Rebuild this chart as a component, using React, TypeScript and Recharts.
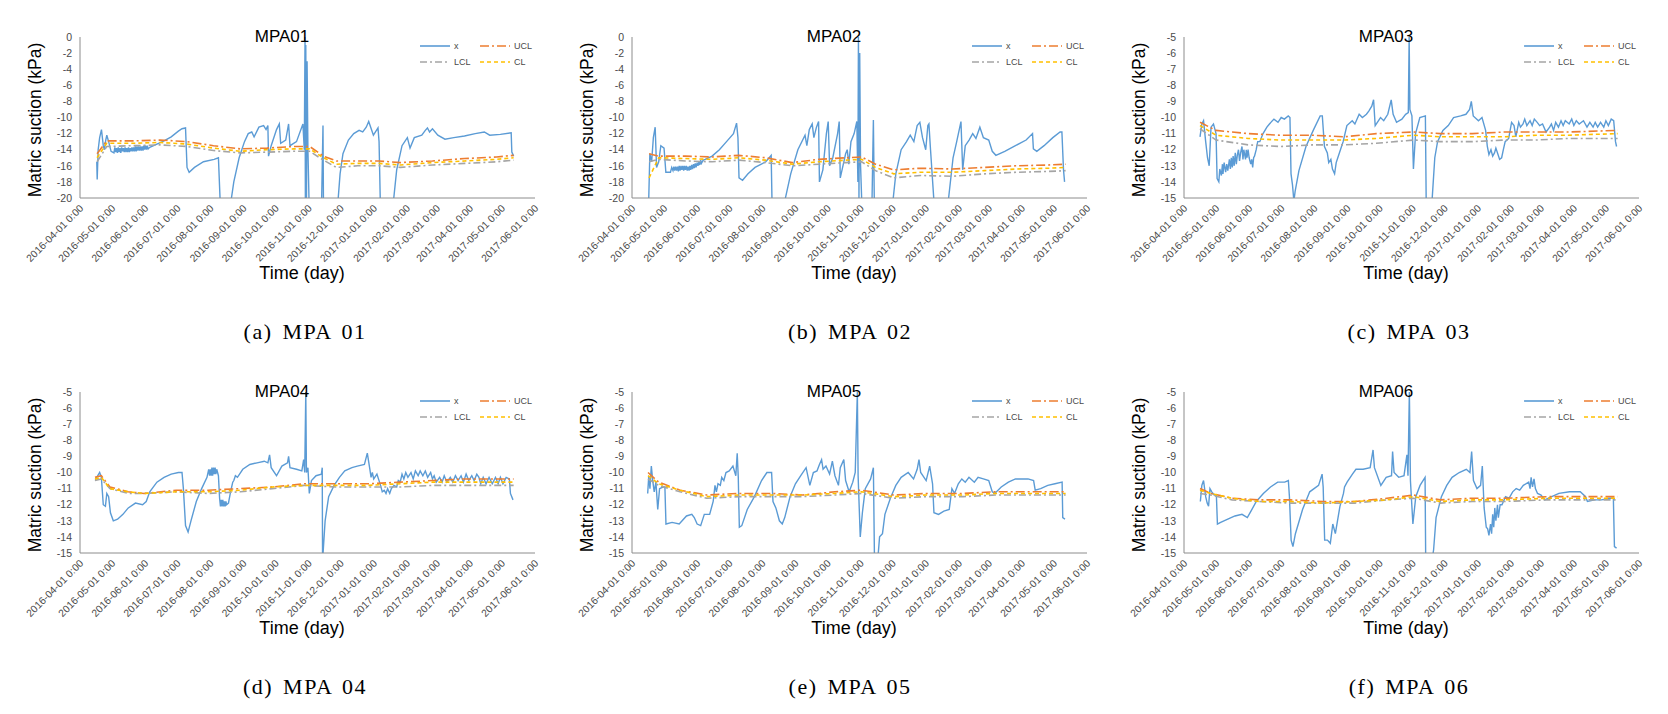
import React from "react";
import { LineChart, Line, XAxis, YAxis } from "recharts";

type Pt = [number, number];

// x axis: days counted from 2016-04-01, one tick per month start
const MONTH_DAYS = [0, 30, 61, 91, 122, 153, 183, 214, 244, 275, 306, 334, 365, 395, 426];
const MONTH_LABELS = [
  "2016-04-01 0:00", "2016-05-01 0:00", "2016-06-01 0:00", "2016-07-01 0:00", "2016-08-01 0:00",
  "2016-09-01 0:00", "2016-10-01 0:00", "2016-11-01 0:00", "2016-12-01 0:00", "2017-01-01 0:00",
  "2017-02-01 0:00", "2017-03-01 0:00", "2017-04-01 0:00", "2017-05-01 0:00", "2017-06-01 0:00",
];

const Y_TICKS_20 = [-20, -18, -16, -14, -12, -10, -8, -6, -4, -2, 0];
const Y_TICKS_15 = [-15, -14, -13, -12, -11, -10, -9, -8, -7, -6, -5];

// ---- MPA01 ----
const MPA01_X: Pt[] = [
  [15.7, -15.5], [16.1, -17.7], [17, -14], [18.4, -12.5], [20.1, -11.5], [21.8, -13.5], [22.8, -14], [24.1, -12.8],
  [25.1, -12.2], [26.8, -13], [29.1, -14.2], [31.8, -14.4],
  [32.6, -13.7], [33.4, -14.3], [34.2, -13.8], [35, -14.4], [35.8, -13.7], [36.6, -14.3], [37.4, -13.8], [38.2, -14.4],
  [39, -13.7], [39.8, -14.2], [40.6, -13.8], [41.4, -14.3], [42.2, -13.7], [43, -14.3], [43.8, -13.8], [44.6, -14.3],
  [45.4, -13.7], [46.2, -14.3], [47, -13.8], [47.8, -14.2], [48.6, -13.7], [49.4, -14.2], [50.2, -13.7], [51, -14.2],
  [51.8, -13.6], [52.6, -14.2], [53.4, -13.6], [54.2, -14.1], [55, -13.6], [55.8, -14.1], [56.6, -13.6], [57.4, -14.1],
  [58.2, -13.6], [59, -14.1], [59.8, -13.5], [60.6, -14.0], [61.4, -13.5], [62.2, -14.0], [63, -13.5], [63.8, -13.9],
  [65.3, -13.7], [72, -13.3], [78.7, -12.9], [85.4, -12.4], [92.1, -11.7], [95.5, -11.4], [98.8, -11.3],
  [100.2, -16.2], [102.2, -16.8], [107.2, -16.2], [115.6, -15.5], [125.6, -15.2], [129.6, -15.0], [131.7, -22],
  [140.7, -21], [144, -18], [149, -15], [154, -13], [157.5, -12], [160.8, -11.8], [163, -12.4], [167.5, -11.2],
  [171.9, -11.0], [174.2, -11.5], [175.9, -11.0], [176.5, -14.8], [179, -13.5], [184, -11.5], [186.6, -10.8],
  [187.9, -13.2], [192.6, -12.8], [195.3, -10.8], [196.6, -13.5], [202.7, -13], [208.7, -10.8], [210, -14],
  [210.7, 0], [211, -20], [211.4, -1], [212, -22], [212.6, -3], [213.4, -14], [214.7, -22], [219.4, -24],
  [226, -22], [227.5, -11], [228, -22], [234.5, -24], [241.2, -21], [243.5, -17], [246.2, -14.5], [251.3, -12.8],
  [256.3, -12.0], [261.3, -11.6], [264.7, -11.8], [268, -11.2], [270.3, -10.5], [272.4, -11.3], [274.7, -12.2],
  [279, -11.3], [280, -13], [281.4, -22], [286.4, -24], [293, -21], [296.5, -16.5], [301.5, -13.5], [306.5, -12.5],
  [309, -13.8], [313, -12.5], [320, -12.2], [323.3, -11.6], [325.3, -11.3], [327.3, -11.8], [330, -11.4],
  [335, -12.2], [341.7, -12.7], [350, -12.5], [360, -12.3], [370, -12.0], [378.5, -11.8], [383.6, -12.2],
  [393.6, -12.1], [403.7, -11.9], [404.3, -14.3], [406, -14.8],
];
const MPA01_CTRL_DAYS = [16, 25, 50, 75, 100, 125, 150, 175, 200, 215, 228, 240, 260, 280, 300, 330, 360, 390, 406];
const MPA01_UCL = [-14.5, -12.9, -12.9, -12.8, -13.0, -13.5, -13.9, -13.8, -13.6, -13.6, -14.8, -15.4, -15.4, -15.4, -15.6, -15.4, -15.1, -14.9, -14.7];
const MPA01_CL = [-15, -13.2, -13.2, -13.1, -13.3, -13.8, -14.2, -14.0, -13.9, -13.9, -15.0, -15.8, -15.7, -15.7, -15.9, -15.6, -15.4, -15.2, -15.0];
const MPA01_LCL = [-15.5, -13.6, -13.5, -13.4, -13.6, -14.1, -14.4, -14.3, -14.2, -14.2, -15.3, -16.2, -16.0, -16.0, -16.2, -15.9, -15.7, -15.5, -15.3];

// ---- MPA02 ----
const MPA02_X: Pt[] = [
  [15.5, -22], [15.7, -20], [16.7, -14.5], [18.4, -15.5], [20, -12.5], [21.7, -11.2], [23, -16.2], [25, -15.5],
  [27, -13.5], [30, -13.8], [31.7, -16.8], [36, -16.8], [37.2, -16.2], [38.4, -16.6], [39.2, -16.1], [40, -16.6],
  [40.9, -16.1], [41.7, -16.6], [42.6, -16.1], [43.4, -16.7], [44.2, -16.0], [45, -16.6], [45.9, -16.0], [46.7, -16.5],
  [47.6, -16.0], [48.4, -16.6], [49.2, -16.0], [50, -16.5], [50.9, -16.0], [51.7, -16.6], [52.6, -16.1], [53.4, -16.6],
  [54.2, -16.0], [55, -16.5], [55.9, -15.9], [56.7, -16.4], [57.6, -15.8], [58.4, -16.3], [59.2, -15.7], [60, -16.2],
  [61, -15.6], [61.8, -16.0], [62.7, -15.5], [63.5, -15.9], [64.3, -15.3], [65, -15.7], [66.7, -15.3], [68.5, -15.2],
  [75, -14.8], [81.8, -14], [88.5, -13], [95, -12], [97.9, -10.7], [99.2, -12.5], [100.2, -17.5], [103.5, -17.8],
  [108.6, -17], [115.2, -16.2], [125.3, -15.5], [130.3, -14.7], [131.3, -22], [135.3, -24], [142, -21],
  [148.6, -17], [155.3, -14], [162, -12.2], [163.7, -13.5], [166, -11.5], [168.7, -10.8], [170.3, -12.5],
  [172.7, -11.2], [174.7, -10.5], [175.5, -18], [178.7, -16.5], [182, -12], [183.7, -10.5], [185, -16],
  [188, -15], [192.5, -12], [194, -10.5], [195, -17.5], [197.5, -16], [200, -14.5], [201.5, -14], [203, -15.8],
  [205, -13], [208, -12], [210.5, -10.5], [211.5, -18], [212, 0], [212.5, -20], [213.2, -2], [214, -16],
  [215.5, -22], [219, -24], [224.5, -22], [226, -10.3], [227, -22], [235.5, -24], [243.8, -21], [247, -17],
  [252, -14], [257, -13], [260.5, -12.2], [263.9, -13], [267, -11], [269.5, -10.6], [272, -12.5], [275, -14],
  [277, -11], [278, -10.8], [279.5, -14], [283, -21], [287, -24], [295.6, -21], [300.6, -15], [304, -13],
  [308, -10.5], [309.6, -16.5], [312, -13.5], [315.6, -12.8], [319, -12], [322, -12.6], [325.7, -11.2],
  [329, -12.5], [334, -12.8], [337.3, -14.2], [340.7, -14.7], [349, -14.2], [359, -13.5], [369, -12.8],
  [375, -12.0], [375.8, -13.9], [379, -14.2], [385.8, -13.5], [394, -12.5], [400.8, -11.8], [402.5, -11.8],
  [404, -16.5], [405, -18],
];
const MPA02_CTRL_DAYS = [16, 25, 50, 75, 100, 125, 150, 175, 200, 215, 228, 245, 270, 300, 330, 360, 390, 406];
const MPA02_UCL = [-14.5, -14.8, -14.8, -14.9, -14.7, -15.0, -15.6, -15.2, -15.0, -14.9, -15.8, -16.5, -16.3, -16.4, -16.2, -16.0, -15.9, -15.8];
const MPA02_CL = [-17.5, -15.0, -15.1, -15.2, -15.0, -15.3, -15.8, -15.5, -15.3, -15.2, -16.2, -17.0, -16.8, -16.8, -16.6, -16.4, -16.3, -16.2];
const MPA02_LCL = [-15.5, -15.2, -15.4, -15.5, -15.3, -15.6, -16.0, -15.8, -15.6, -15.5, -16.6, -17.5, -17.2, -17.3, -17.0, -16.8, -16.7, -16.6];

// ---- MPA03 ----
const MPA03_X: Pt[] = [
  [15, -11.2], [16.7, -10.4], [18.3, -10.2], [20.3, -11.5], [22, -12.5], [23.6, -13], [25.3, -10.6], [27.6, -10.4],
  [30, -11], [31, -13.8], [32.6, -14], [33.5, -13.2], [35, -13.6], [36, -12.9], [36.5, -13.5], [37.6, -12.8],
  [39, -13.4], [40, -12.9], [41, -13.3], [42.5, -12.6], [43.4, -13.2], [44.3, -12.5], [45.2, -13.1], [46, -12.4],
  [47, -13.0], [48, -12.2], [49, -12.9], [50, -12.3], [51, -12.0], [52, -12.7], [53, -12.2], [54.3, -11.8],
  [55.2, -12.6], [56, -12.0], [57.6, -12.6], [58.3, -12.0], [59, -12.5], [60, -12.0], [61, -12.5], [62.5, -12.9],
  [63.4, -12.6], [64.3, -13.1], [65.2, -12.5], [66, -12.4], [67.6, -12], [69, -11.5], [71, -11.5], [74, -11.0],
  [77.6, -10.6], [80, -10.4], [84.2, -10.1], [88, -10.3], [91, -10.0], [94, -10.1], [97.6, -9.9], [99.2, -10],
  [100.2, -13.5], [101.6, -14.2], [102.9, -15.2], [104, -14.6], [107.6, -13.3], [114.2, -11.8], [121, -10.8],
  [127.5, -9.9], [129.5, -9.9], [131.5, -11.8], [134.2, -12.2], [135.5, -12.8], [137.5, -12.6], [139, -13.2],
  [141, -13.5], [142.5, -12.8], [144, -12.5], [149, -11.5], [152.5, -10.5], [157.5, -10.2], [160, -10.4],
  [164, -9.8], [167, -10.0], [170.8, -9.8], [173, -9.6], [175.8, -9.3], [177.5, -8.9], [179, -10.5], [184, -10.0],
  [187, -10.2], [190.8, -9.8], [194, -8.9], [195.8, -9.8], [199, -10.3], [204, -10.1], [207.5, -9.8], [210, -9.7],
  [210.8, -5], [211.5, -9.5], [213.4, -9.9], [214.8, -13.2], [216.8, -11], [220.8, -10], [226, -9.9],
  [226.8, -15.5], [230.8, -16], [232.4, -15], [234.8, -12.5], [237.4, -11.5], [242.4, -10.8], [247.4, -10.5],
  [252.4, -10.0], [259, -9.9], [264, -9.8], [267.4, -9.5], [269, -9.0], [270.8, -9.9], [275.7, -10.2],
  [279, -10.0], [282.4, -10.8], [284, -11.8], [285.5, -12.3], [287.4, -12], [289, -12.4], [290.7, -12.2],
  [292, -11.9], [294, -12.3], [295.5, -12.6], [297.4, -12.5], [299, -12.0], [300.7, -11.5], [304, -11.3],
  [306.7, -10.3], [309, -10.5], [310.7, -11.2], [313.4, -10.3], [315, -10.6], [317.4, -10.4], [319, -10.1],
  [321, -10.5], [324, -10.2], [326, -10.5], [328, -10.1], [330.7, -10.3], [333, -10.5], [335.7, -10.4],
  [339, -10.9], [342.3, -10.6], [344, -10.4], [346, -10.8], [348, -10.3], [350.6, -10.6], [353, -10.2],
  [355, -10.5], [357, -10.2], [360.6, -10.4], [363, -10.1], [365, -10.5], [367.3, -10.2], [370, -10.4],
  [374, -10.2], [377.3, -10.6], [380, -10.3], [383, -10.6], [385, -10.3], [387.3, -10.6], [390, -10.3],
  [393, -10.6], [395, -10.2], [397.3, -10.5], [400, -10.1], [402.3, -10.2], [404, -11.5], [405, -11.8],
];
const MPA03_CTRL_DAYS = [15, 30, 60, 90, 120, 150, 180, 215, 240, 270, 300, 330, 360, 406];
const MPA03_UCL = [-10.3, -10.8, -11.0, -11.1, -11.1, -11.2, -11.0, -10.9, -11.0, -11.0, -10.9, -10.9, -10.9, -10.8];
const MPA03_CL = [-10.5, -11.1, -11.3, -11.4, -11.4, -11.4, -11.3, -11.1, -11.2, -11.2, -11.2, -11.1, -11.1, -11.0];
const MPA03_LCL = [-10.7, -11.4, -11.7, -11.8, -11.7, -11.7, -11.6, -11.4, -11.5, -11.5, -11.4, -11.4, -11.3, -11.3];

// ---- MPA04 ----
const MPA04_X: Pt[] = [
  [14.4, -10.5], [15.7, -10.3], [18.4, -10.0], [20, -10.3], [21.8, -12.0], [23.8, -12.1], [25.1, -11.3],
  [26.8, -11.5], [28.5, -12.5], [31.2, -13.0], [35.2, -12.9], [40.2, -12.6], [45.2, -12.2], [51.9, -11.9],
  [58.6, -12.0], [62, -11.8], [65.3, -11.2], [72, -10.6], [78.7, -10.3], [85.4, -10.1], [92.1, -10.0],
  [95.5, -10.0], [96.8, -11.0], [98.8, -13.3], [101.2, -13.7], [103.9, -13.0], [108.9, -11.8], [113.9, -11.0],
  [118.9, -10.3], [120.5, -9.8], [121.3, -10.2], [122, -9.8], [122.8, -10.2], [123.5, -9.7], [124.2, -10.2],
  [125, -9.7], [125.8, -10.1], [126.5, -9.7], [127.2, -10.1], [128, -9.8], [129.6, -10.2], [130.7, -11.6],
  [131.5, -12.1], [132.3, -11.7], [133, -12.1], [133.7, -11.7], [134.5, -12.1], [135.2, -11.8], [135.9, -12.1],
  [136.6, -11.8], [137.3, -12.0], [139, -11.9], [140.7, -11.3], [142, -10.9], [143, -10.6], [144, -10.5],
  [145.5, -10.2], [147.4, -10.3], [152.4, -9.8], [159, -9.5], [165.8, -9.4], [172.5, -9.3], [175.9, -9.4],
  [177.5, -8.9], [179, -9.7], [184, -10.2], [189, -9.6], [194.3, -9.4], [195.3, -9.0], [196.6, -9.7],
  [202.7, -9.8], [207.7, -9.9], [209.4, -9.2], [210.4, -10.0], [211.4, -5], [212, -10], [213.4, -9.7],
  [214.7, -11.3], [216.7, -10.5], [221, -10.2], [226, -10.1], [226.8, -9.7], [227.1, -15.5], [229.5, -13],
  [232.8, -11.5], [237.9, -10.8], [242.9, -10.3], [247.9, -9.9], [254.6, -9.7], [259.6, -9.6], [266.3, -9.5],
  [269, -8.8], [271.4, -9.8], [272.5, -10.3], [273.7, -10.0], [275, -10.4], [278, -10.1], [281.4, -10.8],
  [283, -11.2], [284.8, -11.1], [286.5, -11.3], [288, -11.0], [290, -11.3], [291.5, -11.0], [294, -10.8],
  [296.5, -10.9], [298, -10.5], [299.8, -10.6], [301.5, -10.1], [303.2, -10.4], [305, -10.0], [307, -10.3],
  [309.9, -10.0], [312, -10.4], [314, -9.9], [316.6, -10.2], [318.5, -9.9], [321, -10.2], [323.3, -9.9],
  [325.5, -10.3], [328.3, -10.0], [330, -10.4], [331.6, -10.2], [333.5, -10.6], [336.7, -10.3], [339, -10.6],
  [341, -10.2], [343.5, -10.6], [346.7, -10.3], [349, -10.6], [351.5, -10.2], [354, -10.5], [356.8, -10.2],
  [359, -10.6], [361.5, -10.1], [364, -10.5], [366.8, -10.2], [369, -10.5], [371.5, -10.1], [373.5, -10.3],
  [375.2, -10.7], [377.5, -10.3], [380.2, -10.7], [383, -10.3], [386, -10.7], [389, -10.3], [391.5, -10.7],
  [393.6, -10.3], [396, -10.7], [399, -10.3], [402, -10.4], [403, -11.3], [405.4, -11.7],
];
const MPA04_CTRL_DAYS = [14, 20, 28, 45, 60, 90, 120, 150, 180, 210, 240, 270, 300, 330, 360, 406];
const MPA04_UCL = [-10.3, -10.2, -10.9, -11.2, -11.3, -11.1, -11.1, -11.0, -10.9, -10.7, -10.7, -10.7, -10.6, -10.5, -10.4, -10.4];
const MPA04_CL = [-10.4, -10.3, -11.0, -11.2, -11.3, -11.2, -11.2, -11.1, -10.9, -10.8, -10.8, -10.8, -10.7, -10.6, -10.6, -10.6];
const MPA04_LCL = [-10.5, -10.4, -11.0, -11.3, -11.3, -11.2, -11.3, -11.2, -11.0, -10.8, -10.9, -10.9, -10.9, -10.8, -10.8, -10.8];

// ---- MPA05 ----
const MPA05_X: Pt[] = [
  [14.7, -11.3], [15.7, -10.2], [16.8, -11], [18.1, -9.6], [19.4, -10.5], [20.8, -11.2], [22.4, -10.6],
  [24.1, -12.3], [25.8, -11.0], [29.1, -10.9], [30.8, -10.9], [31.8, -13.2], [37.5, -13.1], [44.2, -13.2],
  [51, -12.7], [56, -12.6], [58.3, -12.8], [61, -13.2], [64.3, -13.3], [67.7, -12.6], [72.7, -12.6], [76, -11.8],
  [77.7, -10.8], [79, -11.2], [80.5, -10.7], [82.7, -10.8], [84, -10.3], [86, -10.5], [88, -10.0], [91, -9.9],
  [94.5, -9.6], [97.2, -10.2], [98.5, -8.8], [99.5, -10.3], [100.5, -13.4], [102.8, -13.3], [107.9, -12.3],
  [114.6, -11.5], [121.3, -10.5], [126.3, -10.0], [130.7, -10.0], [132, -11.8], [134.7, -12.2], [138, -13.0],
  [140.7, -13.2], [143, -12.8], [148, -11.5], [153, -10.7], [158, -10.2], [163, -9.7], [166.5, -10.8],
  [169.8, -10.0], [173.2, -9.9], [175.5, -9.5], [177.5, -9.2], [178.9, -9.8], [181.6, -9.6], [185, -10.1],
  [187.6, -9.3], [190, -10.2], [193.3, -10.8], [195, -9.7], [198.3, -9.2], [200, -10.5], [203.3, -11.2],
  [206.7, -10.6], [209, -10.0], [211, -5], [211.7, -10.2], [213.7, -14.0], [215.7, -12.5], [218.4, -11.0],
  [223.4, -10.4], [226, -9.7], [227, -15.3], [230, -15.5], [231.8, -14], [234.5, -13.8], [236.8, -12.6],
  [241.9, -11.6], [247, -10.8], [252, -10.3], [258.6, -10.0], [263.6, -10.4], [267, -9.8], [268.7, -9.2],
  [270.3, -10.0], [275.4, -10.5], [278.7, -9.6], [281.4, -10.7], [282.7, -12.5], [287, -12.6], [292, -12.4],
  [297, -12.3], [299.5, -11.0], [302, -11.3], [305.5, -10.7], [308.8, -10.4], [312, -10.6], [315.5, -10.3],
  [320.5, -10.6], [324, -10.3], [329, -10.4], [334, -10.5], [337.3, -11.2], [339.7, -11.3], [345.7, -10.9],
  [352.4, -10.6], [359, -10.4], [365.8, -10.4], [370.8, -10.4], [376, -10.5], [377.5, -11.1], [382.6, -11.0],
  [389.3, -10.8], [396, -10.7], [402.7, -10.6], [403.3, -12.8], [405.4, -12.9],
];
const MPA05_CTRL_DAYS = [15, 25, 45, 70, 100, 130, 160, 190, 215, 245, 275, 310, 340, 370, 406];
const MPA05_UCL = [-10.0, -10.6, -11.1, -11.4, -11.3, -11.3, -11.4, -11.2, -11.1, -11.4, -11.3, -11.3, -11.2, -11.2, -11.2];
const MPA05_CL = [-10.2, -10.7, -11.1, -11.5, -11.4, -11.4, -11.4, -11.3, -11.2, -11.5, -11.4, -11.4, -11.3, -11.3, -11.3];
const MPA05_LCL = [-10.4, -10.8, -11.2, -11.6, -11.5, -11.5, -11.5, -11.4, -11.3, -11.6, -11.5, -11.5, -11.4, -11.4, -11.4];

// ---- MPA06 ----
const MPA06_X: Pt[] = [
  [15.3, -11.8], [16.7, -10.8], [18.3, -10.5], [20.3, -11.5], [21.7, -11.9], [23, -12.1], [24.3, -11.0],
  [26, -11.2], [28.3, -11.4], [30.3, -11.4], [31.3, -13.2], [34.3, -13.1], [41, -12.9], [47.7, -12.7],
  [54.3, -12.6], [59.3, -12.8], [62.7, -12.4], [67.7, -11.8], [74.3, -11.3], [81, -10.9], [87.7, -10.6],
  [94.3, -10.6], [97.7, -10.5], [98.7, -11.5], [100.3, -14.2], [102, -14.6], [104.3, -13.8], [111, -12.3],
  [117.7, -11.2], [126, -10.8], [129.3, -10.1], [130.3, -10.9], [131.7, -14.2], [134.3, -14.2], [137, -14.4],
  [139.3, -13.2], [141.7, -13.8], [146, -12.1], [149.3, -11.3], [150.3, -10.9], [152.7, -10.6], [157.7, -10.1],
  [161, -9.8], [167.7, -9.8], [174.3, -9.7], [177, -8.6], [178.3, -9.7], [184.3, -10.8], [189.3, -10.3],
  [194.3, -10.2], [195.3, -8.7], [196.7, -10.0], [201, -10.3], [206, -10.2], [208.7, -8.9], [209.7, -10.2],
  [211, -5], [212, -10.5], [214.3, -13.2], [217, -11.5], [221, -10.8], [225.7, -10.3], [226.3, -15.5],
  [231, -16], [233.7, -14.8], [236, -12.8], [241, -11.5], [246, -10.8], [251, -10.3], [257.7, -10.0],
  [264.3, -9.8], [267.7, -10.0], [269.3, -8.7], [271, -10.5], [274.3, -11.0], [277.7, -10.8], [279.3, -9.6],
  [281, -12.2], [283, -13.4], [284.3, -13.5], [285.5, -13.9], [287, -13.2], [288, -13.8], [289, -12.6],
  [290, -13.4], [291, -12.2], [292, -13.0], [293.5, -12.0], [294.3, -12.8], [296, -12.0], [297.7, -12.0],
  [301, -11.5], [304.3, -11.6], [307.7, -11.2], [311, -11.0], [314.3, -11.1], [317.7, -10.8], [322.7, -10.6],
  [324, -11.0], [325, -10.3], [326.3, -10.9], [327.7, -10.4], [329, -11.0], [331, -11.3], [334.3, -11.4],
  [337.7, -11.7], [344.3, -11.5], [351, -11.3], [361, -11.2], [371, -11.2], [376, -11.5], [377.7, -11.8],
  [384.3, -11.7], [391, -11.7], [397.7, -11.6], [402, -11.6], [403, -14.6], [405, -14.7],
];
const MPA06_CTRL_DAYS = [15, 25, 45, 70, 100, 130, 160, 190, 215, 240, 270, 300, 340, 370, 406];
const MPA06_UCL = [-11.0, -11.3, -11.6, -11.7, -11.7, -11.8, -11.8, -11.6, -11.4, -11.7, -11.6, -11.6, -11.5, -11.5, -11.5];
const MPA06_CL = [-11.1, -11.3, -11.6, -11.8, -11.8, -11.9, -11.8, -11.7, -11.5, -11.8, -11.7, -11.7, -11.6, -11.6, -11.6];
const MPA06_LCL = [-11.3, -11.4, -11.7, -11.8, -11.9, -11.9, -11.9, -11.7, -11.6, -11.9, -11.8, -11.8, -11.7, -11.7, -11.7];

const COLORS = { x: "#5b9bd5", ucl: "#ed7d31", lcl: "#a5a5a5", cl: "#ffc000" };
const DASH = { ucl: "9 3 2 3", lcl: "7 3 2 3", cl: "4 3" };
const SANS = "'Liberation Sans', Arial, sans-serif";
const TICK_COLOR = "#4a4a4a";

const toRows = (pts: Pt[]) => pts.map(([d, v]) => ({ d, v }));
const ctrlRows = (days: number[], vals: number[]) => days.map((d, i) => ({ d, v: vals[i] }));

const XTick = (props: any) => {
  const { x, y, payload } = props;
  const label = MONTH_LABELS[MONTH_DAYS.indexOf(payload.value)];
  const tx = x + 4;
  const ty = y + 11;
  return (
    <text x={tx} y={ty} transform={`rotate(-45, ${tx}, ${ty})`} textAnchor="end" fontSize={10.3} fill={TICK_COLOR}>
      {label}
    </text>
  );
};

interface PanelProps {
  left: number;
  top: number;
  title: string;
  caption: string;
  captionX: number;
  xPts: Pt[];
  ctrlDays: number[];
  ucl: number[];
  cl: number[];
  lcl: number[];
  yDomain: [number, number];
  yTicks: number[];
}

const LegendItem = ({ x, y, color, dash, label }: { x: number; y: number; color: string; dash?: string; label: string }) => (
  <>
    <svg style={{ position: "absolute", left: x, top: y - 3 }} width={30} height={6}>
      <line x1={0} y1={3} x2={30} y2={3} stroke={color} strokeWidth={1.6} strokeDasharray={dash} />
    </svg>
    <div style={{ position: "absolute", left: x + 34, top: y - 6, fontSize: 9, lineHeight: "12px", color: TICK_COLOR }}>{label}</div>
  </>
);

const Panel: React.FC<PanelProps> = (p) => {
  return (
    <div style={{ position: "absolute", left: p.left, top: p.top, width: 560, height: 350, fontFamily: SANS }}>
      <LineChart width={560} height={300} margin={{ top: 37, right: 25, bottom: 22, left: 40 }}>
        <XAxis
          type="number"
          dataKey="d"
          domain={[0, 426]}
          ticks={MONTH_DAYS}
          interval={0}
          tick={<XTick />}
          tickLine={false}
          tickSize={0}
          tickMargin={0}
          height={80}
          stroke="#8c8c8c"
        />
        <YAxis
          type="number"
          domain={p.yDomain}
          ticks={p.yTicks}
          interval={0}
          allowDataOverflow
          width={40}
          tickLine={false}
          tickSize={0}
          tickMargin={8}
          tick={{ fontSize: 10.5, fill: TICK_COLOR }}
          stroke="#8c8c8c"
        />
        <Line data={toRows(p.xPts)} dataKey="v" stroke={COLORS.x} strokeWidth={1.4} dot={false} isAnimationActive={false} />
        <Line data={ctrlRows(p.ctrlDays, p.ucl)} dataKey="v" stroke={COLORS.ucl} strokeWidth={1.6} strokeDasharray={DASH.ucl} dot={false} isAnimationActive={false} />
        <Line data={ctrlRows(p.ctrlDays, p.lcl)} dataKey="v" stroke={COLORS.lcl} strokeWidth={1.6} strokeDasharray={DASH.lcl} dot={false} isAnimationActive={false} />
        <Line data={ctrlRows(p.ctrlDays, p.cl)} dataKey="v" stroke={COLORS.cl} strokeWidth={1.6} strokeDasharray={DASH.cl} dot={false} isAnimationActive={false} />
      </LineChart>

      <div style={{ position: "absolute", left: 282, top: 37, transform: "translate(-50%, -50%)", fontSize: 17, color: "#000", whiteSpace: "nowrap" }}>
        {p.title}
      </div>
      <div style={{ position: "absolute", left: 35, top: 120, transform: "translate(-50%, -50%) rotate(-90deg)", fontSize: 17.5, color: "#000", whiteSpace: "nowrap" }}>
        Matric suction (kPa)
      </div>
      <div style={{ position: "absolute", left: 302, top: 273, transform: "translate(-50%, -50%)", fontSize: 18, color: "#000", whiteSpace: "nowrap" }}>
        Time (day)
      </div>

      <LegendItem x={420} y={46} color={COLORS.x} label="x" />
      <LegendItem x={480} y={46} color={COLORS.ucl} dash={DASH.ucl} label="UCL" />
      <LegendItem x={420} y={62} color={COLORS.lcl} dash={DASH.lcl} label="LCL" />
      <LegendItem x={480} y={62} color={COLORS.cl} dash={DASH.cl} label="CL" />

      <div
        style={{
          position: "absolute",
          left: p.captionX,
          top: 332,
          transform: "translate(-50%, -50%)",
          fontFamily: "'Liberation Serif', 'Times New Roman', serif",
          fontSize: 22,
          letterSpacing: 1.5,
          wordSpacing: 3,
          color: "#000",
          whiteSpace: "nowrap",
        }}
      >
        {p.caption}
      </div>
    </div>
  );
};

export default function App() {
  return (
    <div style={{ position: "absolute", left: 0, top: 0, width: 1668, height: 714, background: "#fff", overflow: "hidden" }}>
      <Panel left={0} top={0} title="MPA01" caption="(a) MPA 01" captionX={305} xPts={MPA01_X}
        ctrlDays={MPA01_CTRL_DAYS} ucl={MPA01_UCL} cl={MPA01_CL} lcl={MPA01_LCL} yDomain={[-20, 0]} yTicks={Y_TICKS_20} />
      <Panel left={552} top={0} title="MPA02" caption="(b) MPA 02" captionX={298} xPts={MPA02_X}
        ctrlDays={MPA02_CTRL_DAYS} ucl={MPA02_UCL} cl={MPA02_CL} lcl={MPA02_LCL} yDomain={[-20, 0]} yTicks={Y_TICKS_20} />
      <Panel left={1104} top={0} title="MPA03" caption="(c) MPA 03" captionX={305} xPts={MPA03_X}
        ctrlDays={MPA03_CTRL_DAYS} ucl={MPA03_UCL} cl={MPA03_CL} lcl={MPA03_LCL} yDomain={[-15, -5]} yTicks={Y_TICKS_15} />
      <Panel left={0} top={355} title="MPA04" caption="(d) MPA 04" captionX={305} xPts={MPA04_X}
        ctrlDays={MPA04_CTRL_DAYS} ucl={MPA04_UCL} cl={MPA04_CL} lcl={MPA04_LCL} yDomain={[-15, -5]} yTicks={Y_TICKS_15} />
      <Panel left={552} top={355} title="MPA05" caption="(e) MPA 05" captionX={298} xPts={MPA05_X}
        ctrlDays={MPA05_CTRL_DAYS} ucl={MPA05_UCL} cl={MPA05_CL} lcl={MPA05_LCL} yDomain={[-15, -5]} yTicks={Y_TICKS_15} />
      <Panel left={1104} top={355} title="MPA06" caption="(f) MPA 06" captionX={305} xPts={MPA06_X}
        ctrlDays={MPA06_CTRL_DAYS} ucl={MPA06_UCL} cl={MPA06_CL} lcl={MPA06_LCL} yDomain={[-15, -5]} yTicks={Y_TICKS_15} />
    </div>
  );
}
